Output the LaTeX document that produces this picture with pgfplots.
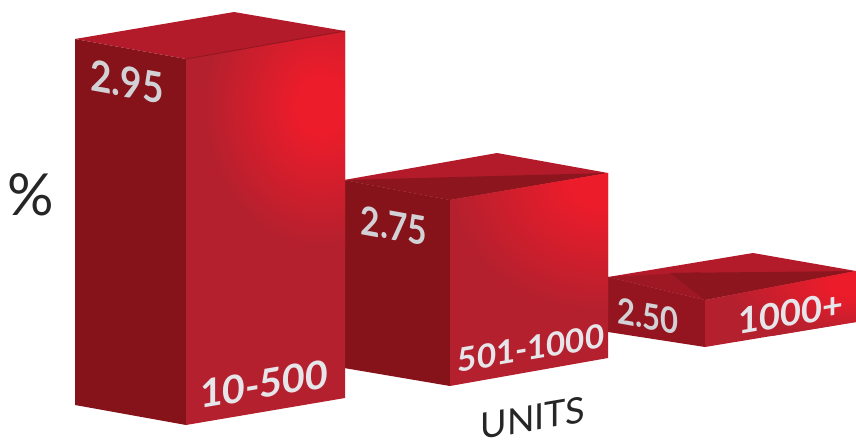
\documentclass[border=0pt]{standalone}
\usepackage{pgfplots}
\pgfplotsset{compat=1.18}
\usepackage{fontspec}
\setmainfont{Lato}
\definecolor{basec}{HTML}{B5202E}
\definecolor{glowc}{HTML}{EC1C2B}
\definecolor{leftc}{HTML}{87131A}
\definecolor{topc}{HTML}{B31B2B}
\definecolor{darkc}{HTML}{8C151E}
\definecolor{lab}{HTML}{D2D2D6}
\definecolor{labb}{HTML}{E6E6EA}
\pgfdeclareradialshading{glow}{\pgfpointorigin}{color(0bp)=(glowc); color(5bp)=(glowc); color(25bp)=(basec); color(50bp)=(basec)}
\newcommand{\face}[2]{\addplot[fill=#1,draw=none,forget plot] coordinates {#2} --cycle;}
\begin{document}
\begin{tikzpicture}
\begin{axis}[
  name=A,
  scale only axis, width=856pt, height=447pt,
  xmin=0, xmax=856, ymin=0, ymax=447, y dir=reverse,
  axis lines=none, clip=false,
]
% bar 3 (2.50, 1000+)
\face{topc}{(608,277)(753,253)(856,271)(705,300)}
\face{darkc!55!topc}{(608,277)(700,272)(705,300)}
\face{darkc}{(670,273)(856,271)(705,300)}
\face{leftc!70!topc}{(608,277)(705,300)(705,347)(608,332)}
\face{basec}{(705,300)(856,271)(856,322)(705,347)}
\begin{scope}
 \clip (axis cs:705,300)--(axis cs:856,271)--(axis cs:856,322)--(axis cs:705,347)--cycle;
 \shade[shading=glow] (axis cs:726,235) rectangle (axis cs:986,335);
\end{scope}
% bar 2 (2.75, 501-1000)
\face{topc}{(344,180)(497,153)(608,173)(450,200)}
\face{darkc}{(344,180)(608,173)(450,200)}
\face{leftc}{(344,180)(450,200)(450,386)(344,368)}
\face{basec}{(450,200)(608,173)(608,358)(450,386)}
\begin{scope}
 \clip (axis cs:450,200)--(axis cs:608,173)--(axis cs:608,358)--(axis cs:450,386)--cycle;
 \shade[shading=glow] (axis cs:450,50) rectangle (axis cs:750,310);
\end{scope}
% bar 1 (2.95, 10-500)
\face{topc}{(75,39)(234,12)(345,31)(186,59)}
\face{leftc}{(75,39)(186,59)(186,425)(75,405)}
\face{basec}{(186,59)(345,31)(345,398)(186,425)}
\begin{scope}
 \clip (axis cs:186,59)--(axis cs:345,31)--(axis cs:345,398)--(axis cs:186,425)--cycle;
 \shade[shading=glow] (axis cs:205,-35) rectangle (axis cs:435,245);
\end{scope}
\addplot[darkc,line width=0.8pt,forget plot] coordinates {(186,59)(345,31)};
% labels
\node[yslant=-0.18,xscale=0.86,text=lab,inner sep=0pt] at (axis cs:127,82) {\fontsize{43}{43}\selectfont\bfseries 2.95};
\node[yslant=-0.18,xscale=0.84,text=lab,inner sep=0pt] at (axis cs:394,226) {\fontsize{40}{40}\selectfont\bfseries 2.75};
\node[yslant=-0.18,xscale=0.86,text=lab,inner sep=0pt] at (axis cs:648,316) {\fontsize{36}{36}\selectfont\bfseries 2.50};
\node[yslant=0.17,text=labb,inner sep=0pt] at (axis cs:264,384) {\fontsize{39}{39}\selectfont\bfseries 10-500};
\node[yslant=0.17,text=labb,inner sep=0pt] at (axis cs:531,348) {\fontsize{33}{33}\selectfont\bfseries 501-1000};
\node[yslant=0.17,text=labb,inner sep=0pt] at (axis cs:791,313) {\fontsize{36}{36}\selectfont\bfseries 1000+};
\node[yslant=0.17,text=black!85,inner sep=0pt] at (axis cs:533,418) {\fontsize{36}{36}\selectfont UNITS};
\node[text=black!85,inner sep=0pt] at (axis cs:31,195) {\fontsize{58}{58}\selectfont \%};
\end{axis}
\pgfresetboundingbox
\path[use as bounding box] (A.south west) rectangle (A.north east);
\end{tikzpicture}
\end{document}
